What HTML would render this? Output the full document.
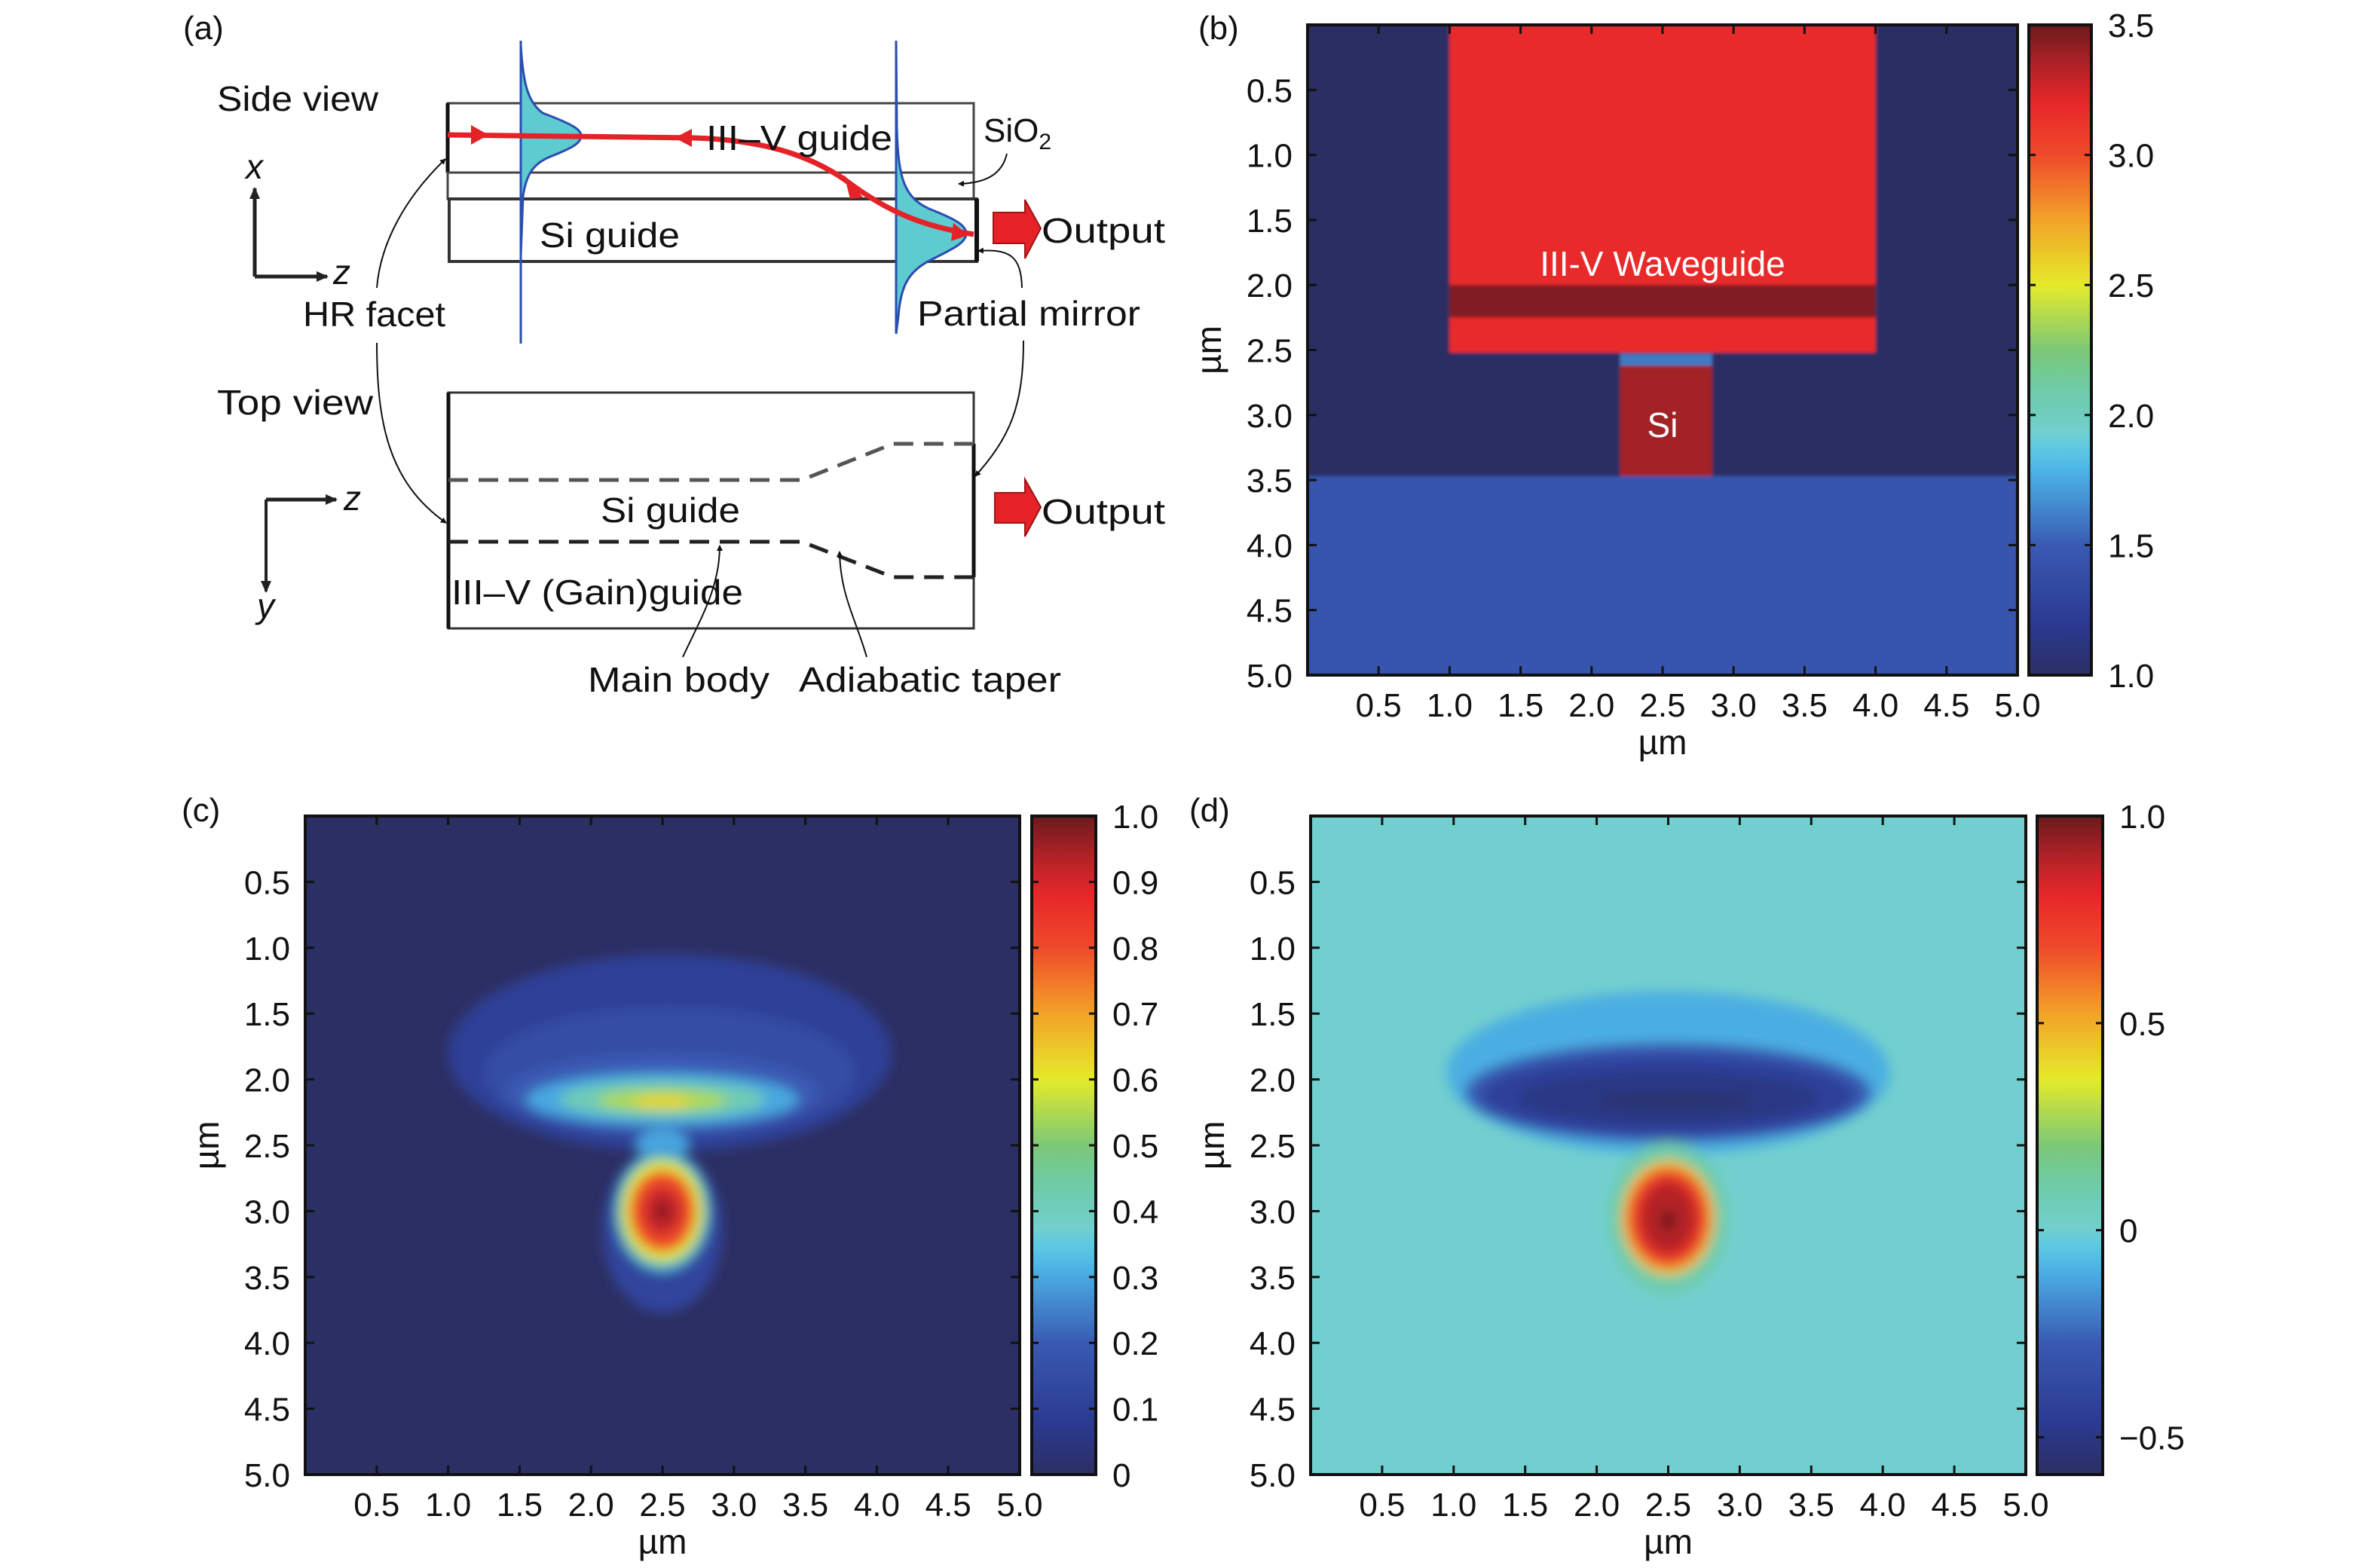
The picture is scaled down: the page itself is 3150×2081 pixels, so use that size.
<!DOCTYPE html>
<html><head><meta charset="utf-8"><style>
html,body{margin:0;padding:0;background:#fff}
svg{display:block}
text{font-family:"Liberation Sans",sans-serif;fill:#111}
</style></head><body>
<svg id="fig" xmlns="http://www.w3.org/2000/svg" width="3150" height="2081" viewBox="0 0 3150 2081">
<defs>
<filter id="blurC" x="-20%" y="-20%" width="140%" height="140%"><feGaussianBlur stdDeviation="8"/></filter>
<filter id="blurB" x="-5%" y="-5%" width="110%" height="110%"><feGaussianBlur stdDeviation="2"/></filter>
<marker id="ah" markerWidth="8" markerHeight="8" refX="7" refY="4" orient="auto" markerUnits="userSpaceOnUse"><path d="M0,0 L8,4 L0,8 z" fill="#111"/></marker>
<marker id="ahBig" markerWidth="16" markerHeight="16" refX="14" refY="8" orient="auto" markerUnits="userSpaceOnUse"><path d="M0,1 L16,8 L0,15 z" fill="#222"/></marker>
</defs>

<g>
<text x="243" y="52" font-size="44">(a)</text>
<text x="288" y="147" font-size="46" textLength="214" lengthAdjust="spacingAndGlyphs">Side view</text>
<rect x="594" y="137" width="698" height="92" fill="none" stroke="#444" stroke-width="3"/>
<line x1="594" y1="137" x2="594" y2="229" stroke="#111" stroke-width="5"/>
<rect x="594" y="229" width="698" height="35" fill="none" stroke="#444" stroke-width="3"/>
<rect x="596" y="264" width="700" height="83" fill="none" stroke="#333" stroke-width="4"/>
<line x1="1296" y1="264" x2="1296" y2="347" stroke="#111" stroke-width="6"/>
<path d="M691,60 C694,110 700,135 720,150 C760,165 771,172 771,180 C771,190 760,196 730,208 C705,218 698,235 694,260 L691,340 L691,456" fill="#5ecbd0" stroke="#2a4db0" stroke-width="3"/>
<line x1="691" y1="54" x2="691" y2="456" stroke="#2a4db0" stroke-width="3"/>
<path d="M1189,54 L1190,170 C1192,240 1200,265 1240,280 C1270,292 1282,300 1282,310 C1282,322 1265,330 1235,345 C1205,360 1195,380 1192,420 L1189,443" fill="#5ecbd0" stroke="#2a4db0" stroke-width="3"/>
<line x1="1189" y1="54" x2="1189" y2="443" stroke="#2a4db0" stroke-width="3"/>
<path d="M594,179 L920,183 C1030,186 1090,215 1130,245 C1175,278 1220,300 1292,311" fill="none" stroke="#e42228" stroke-width="7"/>
<path d="M625,166 L648,179 L625,192 z" fill="#e42228"/>
<path d="M918,171 L895,183 L918,195 z" fill="#e42228"/>
<path d="M1120,232 L1145,262 L1128,264 z" fill="#e42228"/>
<path d="M1265,296 L1285,312 L1262,320 z" fill="#e42228"/>
<text x="937" y="199" font-size="46" textLength="247" lengthAdjust="spacingAndGlyphs">III–V guide</text>
<text x="1305" y="188" font-size="44">SiO<tspan font-size="30" dy="10">2</tspan></text>
<path d="M1336,204 C1330,230 1310,243 1272,244" fill="none" stroke="#111" stroke-width="2" marker-end="url(#ah)"/>
<text x="716" y="328" font-size="46" textLength="186" lengthAdjust="spacingAndGlyphs">Si guide</text>
<path d="M1318,282 L1360,282 L1360,265 L1381,303 L1360,343 L1360,323 L1318,323 z" fill="#e42228" stroke="#a01418" stroke-width="2"/>
<text x="1382" y="322" font-size="46" textLength="164" lengthAdjust="spacingAndGlyphs">Output</text>
<path d="M338,367 L434,367" fill="none" stroke="#222" stroke-width="5" marker-end="url(#ahBig)"/>
<path d="M338,367 L338,250" fill="none" stroke="#222" stroke-width="5" marker-end="url(#ahBig)"/>
<text x="326" y="237" font-size="46" font-style="italic">x</text>
<text x="442" y="377" font-size="46" font-style="italic">z</text>
<text x="402" y="433" font-size="46" textLength="189" lengthAdjust="spacingAndGlyphs">HR facet</text>
<text x="1217" y="432" font-size="46" textLength="296" lengthAdjust="spacingAndGlyphs">Partial mirror</text>
<path d="M500,382 C505,320 540,260 591,211" fill="none" stroke="#111" stroke-width="2" marker-end="url(#ah)"/>
<path d="M500,455 C500,560 515,640 592,694" fill="none" stroke="#111" stroke-width="2" marker-end="url(#ah)"/>
<path d="M1356,382 C1355,340 1340,330 1298,333" fill="none" stroke="#111" stroke-width="2" marker-end="url(#ah)"/>
<path d="M1358,452 C1358,540 1340,580 1294,632" fill="none" stroke="#111" stroke-width="2" marker-end="url(#ah)"/>
<text x="288" y="550" font-size="46" textLength="207" lengthAdjust="spacingAndGlyphs">Top view</text>
<rect x="595" y="521" width="697" height="313" fill="none" stroke="#333" stroke-width="3"/>
<line x1="595" y1="521" x2="595" y2="834" stroke="#111" stroke-width="5"/>
<line x1="1292" y1="589" x2="1292" y2="766" stroke="#111" stroke-width="5"/>
<path d="M595,637 L1064,637 L1185,589 L1292,589" fill="none" stroke="#555" stroke-width="5" stroke-dasharray="26,14"/>
<path d="M595,719 L1064,719 L1185,766 L1292,766" fill="none" stroke="#222" stroke-width="5" stroke-dasharray="26,14"/>
<text x="797" y="693" font-size="46" textLength="185" lengthAdjust="spacingAndGlyphs">Si guide</text>
<text x="599" y="802" font-size="46" textLength="387" lengthAdjust="spacingAndGlyphs">III–V (Gain)guide</text>
<path d="M1320,654 L1360,654 L1360,636 L1381,673 L1360,712 L1360,694 L1320,694 z" fill="#e42228" stroke="#a01418" stroke-width="2"/>
<text x="1382" y="695" font-size="46" textLength="164" lengthAdjust="spacingAndGlyphs">Output</text>
<path d="M353,663 L446,663" fill="none" stroke="#222" stroke-width="5" marker-end="url(#ahBig)"/>
<path d="M353,663 L353,785" fill="none" stroke="#222" stroke-width="4" marker-end="url(#ahBig)"/>
<text x="456" y="677" font-size="46" font-style="italic">z</text>
<text x="341" y="820" font-size="46" font-style="italic">y</text>
<path d="M906,872 C930,820 955,780 955,724" fill="none" stroke="#111" stroke-width="2" marker-end="url(#ah)"/>
<path d="M1150,872 C1135,820 1115,790 1114,732" fill="none" stroke="#111" stroke-width="2" marker-end="url(#ah)"/>
<text x="780" y="918" font-size="46" textLength="241" lengthAdjust="spacingAndGlyphs">Main body</text>
<text x="1060" y="918" font-size="46" textLength="348" lengthAdjust="spacingAndGlyphs">Adiabatic taper</text>
</g>

<text x="1590" y="52" font-size="44">(b)</text>
<text x="241" y="1090" font-size="44">(c)</text>
<text x="1578" y="1090" font-size="44">(d)</text>
<g id="charts"></g>
</svg>
<script>
const axisTicks = [0.5,1.0,1.5,2.0,2.5,3.0,3.5,4.0,4.5,5.0];
const axisTickLabels = ["0.5","1.0","1.5","2.0","2.5","3.0","3.5","4.0","4.5","5.0"];
const bRegionNames = ["cladding","substrate","iii-v-block","mqw-band","bonding-layer","si-waveguide"];
const bRegionVal = [1.0, 1.45, 3.17, 3.45, 1.6, 3.38];
const bRegionX0 = [0, 0, 1.0, 1.0, 2.2, 2.2];
const bRegionX1 = [5, 5, 4.0, 4.0, 2.85, 2.85];
const bRegionY0 = [0, 3.47, 0, 2.0, 2.53, 2.62];
const bRegionY1 = [5, 5, 2.52, 2.25, 2.62, 3.47];
const bCbarTicks = [1.0,1.5,2.0,2.5,3.0,3.5];
const bCbarLabels = ["1.0","1.5","2.0","2.5","3.0","3.5"];
const cLobeVal = [0.1, 0.15, 0.2, 0.3, 0.42, 0.55, 0.63, 0.3, 0.12, 0.3, 0.45, 0.6, 0.8, 0.92, 1.0];
const cLobeX  = [2.55, 2.55, 2.5, 2.5, 2.5, 2.5, 2.5, 2.5, 2.5, 2.5, 2.5, 2.5, 2.5, 2.5, 2.5];
const cLobeY  = [1.8, 1.95, 2.1, 2.15, 2.15, 2.16, 2.17, 2.5, 3.15, 3.0, 3.0, 3.0, 3.0, 3.0, 3.0];
const cLobeRx = [1.55, 1.3, 1.1, 0.95, 0.72, 0.45, 0.2, 0.18, 0.42, 0.33, 0.31, 0.28, 0.23, 0.13, 0.04];
const cLobeRy = [0.75, 0.5, 0.3, 0.2, 0.14, 0.08, 0.05, 0.12, 0.62, 0.46, 0.42, 0.38, 0.31, 0.18, 0.06];
const cCbarTicks = [0,0.1,0.2,0.3,0.4,0.5,0.6,0.7,0.8,0.9,1.0];
const cCbarLabels = ["0","0.1","0.2","0.3","0.4","0.5","0.6","0.7","0.8","0.9","1.0"];
const dLobeVal = [-0.1, -0.28, -0.42, -0.5, -0.57, 0.1, 0.4, 0.55, 0.75, 0.9, 1.0];
const dLobeX  = [2.5, 2.5, 2.5, 2.5, 2.55, 2.5, 2.5, 2.5, 2.5, 2.5, 2.5];
const dLobeY  = [1.95, 2.1, 2.12, 2.14, 2.16, 3.05, 3.05, 3.05, 3.05, 3.05, 3.07];
const dLobeRx = [1.55, 1.42, 1.3, 1.05, 0.55, 0.42, 0.33, 0.31, 0.27, 0.19, 0.05];
const dLobeRy = [0.62, 0.38, 0.3, 0.2, 0.05, 0.58, 0.44, 0.41, 0.36, 0.27, 0.08];
const dCbarTicks = [-0.5,0,0.5,1.0];
const dCbarLabels = ["\u22120.5","0","0.5","1.0"];

const cmT = [0,0.08,0.2,0.3,0.34,0.37,0.44,0.5,0.6,0.7,0.8,0.88,0.94,1.0];
const cmC = ["#2c2f63","#2b3a92","#3a5ab2","#4aa8e0","#55c6ea","#72cfd0","#6ecba8","#7cc878","#e4ea2a","#f3a228","#ee4a2a","#e8262a","#b02228","#6a1a1c"];
function hex2rgb(h){return [parseInt(h.substr(1,2),16),parseInt(h.substr(3,2),16),parseInt(h.substr(5,2),16)];}
function cmap(t){
  t=Math.max(0,Math.min(1,t));
  for(let i=0;i<cmT.length-1;i++){
    if(t<=cmT[i+1]){const f=(t-cmT[i])/(cmT[i+1]-cmT[i]);const a=hex2rgb(cmC[i]),b=hex2rgb(cmC[i+1]);
      return "rgb("+a.map((v,k)=>Math.round(v+(b[k]-v)*f)).join(",")+")";}
  }
  return cmC[cmC.length-1];
}
const NS="http://www.w3.org/2000/svg";
const root=document.getElementById("charts");
function mk(tag,attrs,parent){const e=document.createElementNS(NS,tag);for(const k in attrs)e.setAttribute(k,attrs[k]);(parent||root).appendChild(e);return e;}

function drawPanel(p){
  const g=mk("g",{});
  
  
  const xs=v=>p.x0+(v/5)*(p.x1-p.x0);
  const ys=v=>p.y0+(v/5)*(p.y1-p.y0);
  const tn=v=>(v-p.vmin)/(p.vmax-p.vmin);
  const clipId="clip-"+p.name;
  const cp=mk("clipPath",{id:clipId},g);
  mk("rect",{x:p.x0,y:p.y0,width:p.x1-p.x0,height:p.y1-p.y0},cp);
  const hm=mk("g",{"clip-path":"url(#"+clipId+")"},g);
  
  
  mk("rect",{x:p.x0,y:p.y0,width:p.x1-p.x0,height:p.y1-p.y0,fill:cmap(tn(p.bg))},hm);
  const inner=mk("g",{filter:p.filter},hm);
  if(p.regions){
    for(let i=0;i<p.regions.val.length;i++){
      const r=mk("rect",{x:xs(p.regions.x0[i]),y:ys(p.regions.y0[i]),width:xs(p.regions.x1[i])-xs(p.regions.x0[i]),height:ys(p.regions.y1[i])-ys(p.regions.y0[i]),fill:cmap(tn(p.regions.val[i]))},inner);
      
      
    }
  }
  if(p.lobes){
    for(let i=0;i<p.lobes.val.length;i++){
      const e=mk("ellipse",{cx:xs(p.lobes.x[i]),cy:ys(p.lobes.y[i]),rx:xs(p.lobes.rx[i])-xs(0),ry:ys(p.lobes.ry[i])-ys(0),fill:cmap(tn(p.lobes.val[i]))},inner);
      
      
    }
  }
  const fr=mk("rect",{x:p.x0,y:p.y0,width:p.x1-p.x0,height:p.y1-p.y0,fill:"none",stroke:"#111","stroke-width":4},g);
  
  
  axisTicks.forEach((v,i)=>{
    const X=xs(v),Y=ys(v);
    mk("line",{x1:X,y1:p.y1,x2:X,y2:p.y1-12,stroke:"#111","stroke-width":3},g);
    mk("line",{x1:X,y1:p.y0,x2:X,y2:p.y0+12,stroke:"#111","stroke-width":3},g);
    mk("line",{x1:p.x0,y1:Y,x2:p.x0+12,y2:Y,stroke:"#111","stroke-width":3},g);
    mk("line",{x1:p.x1,y1:Y,x2:p.x1-12,y2:Y,stroke:"#111","stroke-width":3},g);
    const tx=mk("text",{x:X,y:p.y1+55,"font-size":44,"text-anchor":"middle"},g);
    tx.textContent=axisTickLabels[i];
    
    
    const ty=mk("text",{x:p.x0-20,y:Y+16,"font-size":44,"text-anchor":"end"},g);
    ty.textContent=axisTickLabels[i];
    
    
  });
  const xl=mk("text",{x:(p.x0+p.x1)/2,y:p.y1+105,"font-size":46,"text-anchor":"middle"},g);
  xl.textContent="µm";
  
  
  const yl=mk("text",{x:0,y:0,"font-size":46,"text-anchor":"middle",transform:"translate("+(p.x0-115)+","+((p.y0+p.y1)/2)+") rotate(-90)"},g);
  yl.textContent="µm";
  
  
  const gid="grad-"+p.name;
  const lg=mk("linearGradient",{id:gid,x1:0,y1:1,x2:0,y2:0},g);
  for(let i=0;i<=40;i++){const t=i/40;mk("stop",{offset:t,"stop-color":cmap(t)},lg);}
  const cb=mk("rect",{x:p.cbx0,y:p.y0,width:p.cbx1-p.cbx0,height:p.y1-p.y0,fill:"url(#"+gid+")",stroke:"#111","stroke-width":4},g);
  
  
  const cy=v=>p.y1-tn(v)*(p.y1-p.y0);
  p.cbTicks.forEach((v,i)=>{
    const Y=cy(v);
    mk("line",{x1:p.cbx0,y1:Y,x2:p.cbx0+9,y2:Y,stroke:"#111","stroke-width":3},g);
    mk("line",{x1:p.cbx1,y1:Y,x2:p.cbx1-9,y2:Y,stroke:"#111","stroke-width":3},g);
    const t=mk("text",{x:p.cbx1+22,y:Y+16,"font-size":44},g);
    t.textContent=p.cbLabels[i];
    
    
  });
  return {g,xs,ys};
}

const pb=drawPanel({name:"panel-b",x0:1735,x1:2677,y0:33,y1:896,cbx0:2692,cbx1:2775,vmin:1.0,vmax:3.5,bg:1.0,filter:"url(#blurB)",
  regions:{names:bRegionNames,val:bRegionVal,x0:bRegionX0,x1:bRegionX1,y0:bRegionY0,y1:bRegionY1},
  cbTicks:bCbarTicks,cbLabels:bCbarLabels});
(function(){
  const t1=mk("text",{x:pb.xs(2.5),y:pb.ys(1.93),"font-size":46,"text-anchor":"middle",style:"fill:#fff"},pb.g);
  t1.textContent="III-V Waveguide";
  
  
  const t2=mk("text",{x:pb.xs(2.5),y:pb.ys(3.17),"font-size":46,"text-anchor":"middle",style:"fill:#fff"},pb.g);
  t2.textContent="Si";
  
  
})();
drawPanel({name:"panel-c",x0:405,x1:1353,y0:1083,y1:1957,cbx0:1369,cbx1:1454,vmin:0,vmax:1,bg:0,filter:"url(#blurC)",
  lobes:{val:cLobeVal,x:cLobeX,y:cLobeY,rx:cLobeRx,ry:cLobeRy},cbTicks:cCbarTicks,cbLabels:cCbarLabels});
drawPanel({name:"panel-d",x0:1739,x1:2688,y0:1083,y1:1957,cbx0:2703,cbx1:2790,vmin:-0.59,vmax:1,bg:0,filter:"url(#blurC)",
  lobes:{val:dLobeVal,x:dLobeX,y:dLobeY,rx:dLobeRx,ry:dLobeRy},cbTicks:dCbarTicks,cbLabels:dCbarLabels});
</script>
</body></html>
